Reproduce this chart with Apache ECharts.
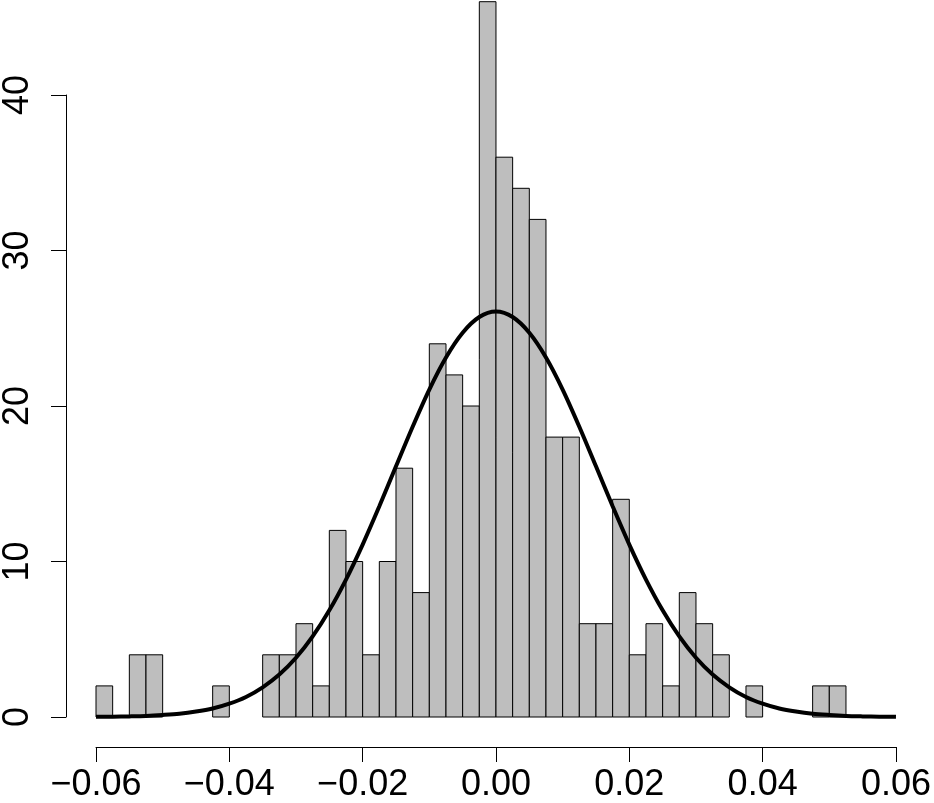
<!DOCTYPE html>
<html>
<head>
<meta charset="utf-8">
<script src="https://cdn.jsdelivr.net/npm/echarts@6/dist/echarts.min.js"></script>
<style>
  html, body { margin: 0; padding: 0; background: #fff; }
  #chart { width: 934px; height: 803px; }
</style>
</head>
<body>
<div id="chart"></div>
<script>
// histogram bins: start and width, counts
const binStart = -0.06;
const binWidth = 0.0025;
const counts = [
  2, 0, 4, 4, 0, 0, 0, 2, 0, 0, 4, 4,
  6, 2, 12, 10, 4, 10, 16, 8, 24, 22, 20, 46,
  36, 34, 32, 18, 18, 6, 6, 14, 4, 6, 2, 8,
  6, 4, 0, 2, 0, 0, 0, 2, 2, 0, 0, 0
];

// fitted normal curve, read at each bin edge
const curveX = [
  -0.06, -0.0575, -0.055, -0.0525, -0.05, -0.0475, -0.045, -0.0425, -0.04, -0.0375,
  -0.035, -0.0325, -0.03, -0.0275, -0.025, -0.0225, -0.02, -0.0175, -0.015, -0.0125,
  -0.01, -0.0075, -0.005, -0.0025, 0, 0.0025, 0.005, 0.0075, 0.01, 0.0125,
  0.015, 0.0175, 0.02, 0.0225, 0.025, 0.0275, 0.03, 0.0325, 0.035, 0.0375,
  0.04, 0.0425, 0.045, 0.0475, 0.05, 0.0525, 0.055, 0.0575, 0.06
];
const curveY = [
  0.01, 0.02, 0.04, 0.07, 0.13, 0.21, 0.35, 0.55, 0.86, 1.29,
  1.91, 2.73, 3.81, 5.18, 6.86, 8.84, 11.09, 13.55, 16.12, 18.67,
  21.06, 23.12, 24.71, 25.72, 26.07, 25.72, 24.71, 23.12, 21.06, 18.67,
  16.12, 13.55, 11.09, 8.84, 6.86, 5.18, 3.81, 2.73, 1.91, 1.29,
  0.86, 0.55, 0.35, 0.21, 0.13, 0.07, 0.04, 0.02, 0.01
];

const xTicks = { min: -0.06, max: 0.06, step: 0.02 };
const yTicks = { min: 0, max: 40, step: 10 };

const bins = counts
  .map((c, i) => [binStart + i * binWidth, binStart + (i + 1) * binWidth, c])
  .filter(b => b[2] > 0);

const font = 'Liberation Sans, Arial, Helvetica, sans-serif';

const chart = echarts.init(document.getElementById('chart'));

chart.setOption({
  animation: false,
  backgroundColor: '#fff',
  grid: [
    { left: 96, right: 37, top: 1.7, bottom: 86 },
    { left: 96, right: 37, top: 95, bottom: 86 }
  ],
  xAxis: [
    {
      type: 'value', gridIndex: 0,
      min: xTicks.min, max: xTicks.max, interval: xTicks.step,
      offset: 30,
      axisLine: { show: true, onZero: false, lineStyle: { color: '#000', width: 1 } },
      axisTick: { show: true, length: 15, lineStyle: { color: '#000', width: 1 } },
      axisLabel: {
        color: '#000', fontSize: 36, fontFamily: font, margin: 20,
        formatter: v => {
          if (Math.abs(v) < 1e-9) return '0.00';
          return (v < 0 ? '\u2212' : '') + Math.abs(v).toFixed(2);
        }
      },
      splitLine: { show: false }
    },
    {
      type: 'value', gridIndex: 1, show: false,
      min: xTicks.min, max: xTicks.max,
      axisLine: { onZero: false }
    }
  ],
  yAxis: [
    {
      type: 'value', gridIndex: 0, show: false,
      min: 0, max: 46,
      axisLine: { onZero: false }
    },
    {
      type: 'value', gridIndex: 1,
      min: yTicks.min, max: yTicks.max, interval: yTicks.step,
      offset: 32,
      axisLine: { show: true, onZero: false, lineStyle: { color: '#000', width: 1 } },
      axisTick: { show: true, length: 15, lineStyle: { color: '#000', width: 1 } },
      axisLabel: {
        color: '#000', fontSize: 36, fontFamily: font, rotate: 90, margin: 30
      },
      splitLine: { show: false }
    }
  ],
  series: [
    {
      type: 'custom',
      xAxisIndex: 0, yAxisIndex: 0,
      data: bins,
      renderItem: (params, api) => {
        const p0 = api.coord([api.value(0), api.value(2)]);
        const p1 = api.coord([api.value(1), 0]);
        return {
          type: 'rect',
          shape: { x: p0[0], y: p0[1], width: p1[0] - p0[0], height: p1[1] - p0[1] },
          style: { fill: '#bebebe', stroke: '#000', lineWidth: 1 }
        };
      }
    },
    {
      type: 'line',
      xAxisIndex: 0, yAxisIndex: 0,
      data: curveX.map((x, i) => [x, curveY[i]]),
      smooth: 0.3,
      showSymbol: false,
      lineStyle: { color: '#000', width: 4 },
      z: 5
    }
  ]
});
</script>
</body>
</html>
